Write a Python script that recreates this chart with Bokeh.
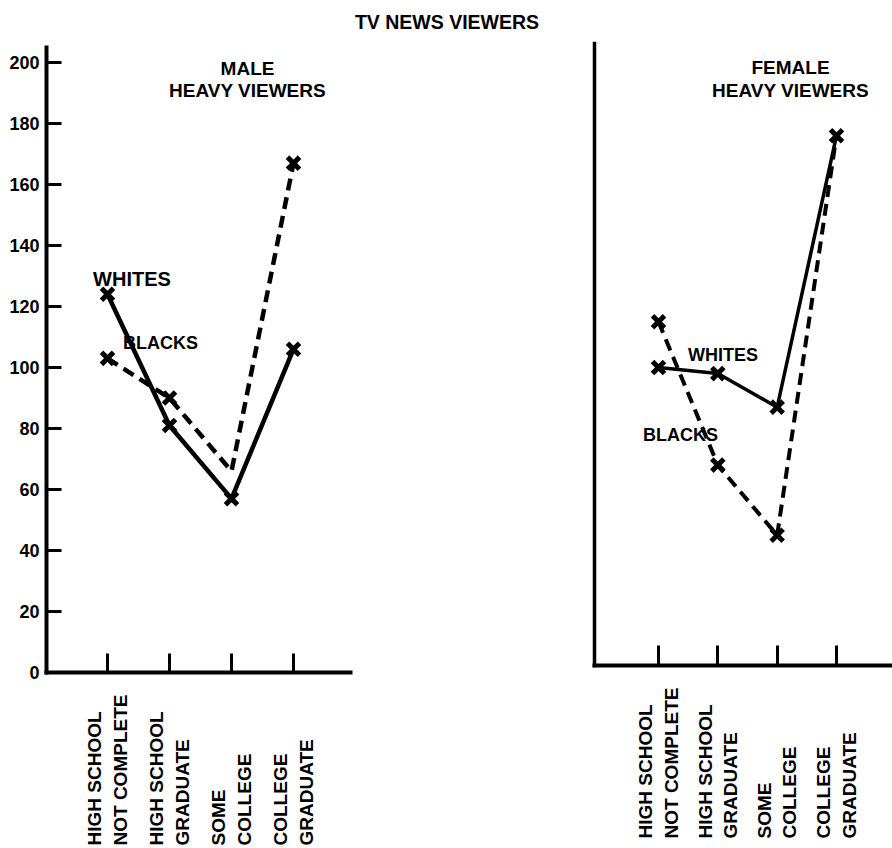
import math
from bokeh.plotting import figure
from bokeh.models import Range1d, FixedTicker, ColumnDataSource
from bokeh.layouts import row
from bokeh.core.properties import value
from bokeh.embed import file_html
from bokeh.resources import INLINE

# ---------------- data ----------------
title_text = "TV NEWS VIEWERS"
panel_titles = ["MALE\nHEAVY VIEWERS", "FEMALE\nHEAVY VIEWERS"]
categories = ["HIGH SCHOOL\nNOT COMPLETE", "HIGH SCHOOL\nGRADUATE", "SOME\nCOLLEGE", "COLLEGE\nGRADUATE"]
series_names = ["WHITES", "BLACKS"]
y_ticks = [0, 20, 40, 60, 80, 100, 120, 140, 160, 180, 200]

male_whites = [124, 81, 57, 106]
male_blacks = [103, 90, 66, 167]
female_whites = [100, 98, 87, 176]
female_blacks = [115, 68, 45, 176]

# ---------------- layout constants (pixels) ----------------
FONT = "Liberation Sans"
W, H = 892, 848
W1 = 560                      # width of left canvas
W2 = W - W1
Y0_PX = 672                   # pixel row of value 0
PX_PER_UNIT = 3.05            # vertical scale (same for both panels)

xs = list(range(1, len(categories) + 1))


def yval(py):
    return (Y0_PX - py) / PX_PER_UNIT


class XMap:
    def __init__(self, left, c1, c4):
        self.left = left
        self.c1 = c1
        self.k = (c4 - c1) / 3.0

    def val(self, px):
        return 1 + (px - self.c1) / self.k


def make_fig(width, xm):
    p = figure(width=width, height=H,
               x_range=Range1d(xm.val(xm.left), xm.val(xm.left + width)),
               y_range=Range1d(yval(H), yval(0)),
               output_backend="svg", toolbar_location=None,
               min_border=0, min_border_left=0, min_border_right=0,
               min_border_top=0, min_border_bottom=0)
    p.xgrid.visible = False
    p.ygrid.visible = False
    p.outline_line_color = None
    p.background_fill_color = "white"
    p.border_fill_color = "white"
    for ax in (p.xaxis[0], p.yaxis[0]):
        ax.axis_line_color = "black"
        ax.major_tick_line_color = "black"
        ax.minor_tick_line_color = None
        ax.major_tick_out = 0
        ax.axis_line_cap = "square"
    return p


def draw_series(p, whites, blacks, black_marker_idx, wlw, blw):
    p.line(xs, blacks, line_color="black", line_width=blw, line_dash="12 7")
    p.line(xs, whites, line_color="black", line_width=wlw)
    p.scatter(xs, whites, marker="x", size=17, line_color="black", line_width=5)
    bx = [xs[i] for i in black_marker_idx]
    by = [blacks[i] for i in black_marker_idx]
    p.scatter(bx, by, marker="x", size=17, line_color="black", line_width=5)


def cat_labels(p, ystart):
    src = ColumnDataSource(dict(x=xs, y=[ystart] * len(xs), t=categories))
    p.text(x="x", y="y", text="t", source=src, angle=math.pi / 2,
           text_align="left", text_baseline="middle",
           text_font=value(FONT), text_font_style="bold",
           text_font_size="19px", text_line_height=1.2, text_color="black")


def text_at(p, x, y, t, size, lh=1.2):
    src = ColumnDataSource(dict(x=[x], y=[y], t=[t]))
    p.text(x="x", y="y", text="t", source=src, text_font=value(FONT),
           text_font_style="bold", text_font_size=size, text_line_height=lh,
           text_align="center", text_baseline="middle", text_color="black")


# ---------------- left panel (male) ----------------
mL = XMap(0, 107, 293)
p1 = make_fig(W1, mL)
yax_x = mL.val(46)
p1.yaxis.fixed_location = yax_x
p1.yaxis.bounds = (0, yval(47))
p1.yaxis.ticker = FixedTicker(ticks=y_ticks)
p1.yaxis.axis_line_width = 4
p1.yaxis.major_tick_in = 15
p1.yaxis.major_tick_line_width = 3
p1.yaxis.major_label_standoff = 7
p1.yaxis.major_label_text_font = FONT
p1.yaxis.major_label_text_font_style = "bold"
p1.yaxis.major_label_text_font_size = "18px"
p1.yaxis.major_label_text_color = "black"

p1.xaxis.fixed_location = 0
p1.xaxis.bounds = (yax_x, mL.val(350))
p1.xaxis.ticker = FixedTicker(ticks=xs)
p1.xaxis.major_label_overrides = {x: "" for x in xs}
p1.xaxis.axis_line_width = 4
p1.xaxis.major_tick_in = 19
p1.xaxis.major_tick_line_width = 3

draw_series(p1, male_whites, male_blacks, [0, 1, 3], 4.5, 4.5)
text_at(p1, mL.val(131.5), yval(278), series_names[0], "20px")
text_at(p1, mL.val(160), yval(342), series_names[1], "18px")
text_at(p1, mL.val(247), yval(79), panel_titles[0], "19px", 1.05)
text_at(p1, mL.val(446.5), yval(21.5), title_text, "19.5px")
cat_labels(p1, yval(845))

# ---------------- right panel (female) ----------------
mR = XMap(W1, 658, 836)
p2 = make_fig(W2, mR)
yax_x2 = mR.val(594)
x_axis_y2 = yval(665)
p2.yaxis.fixed_location = yax_x2
p2.yaxis.bounds = (x_axis_y2, yval(43))
p2.yaxis.ticker = FixedTicker(ticks=[])
p2.yaxis.axis_line_width = 3.5

p2.xaxis.fixed_location = x_axis_y2
p2.xaxis.bounds = (yax_x2, mR.val(W))
p2.xaxis.ticker = FixedTicker(ticks=xs)
p2.xaxis.major_label_overrides = {x: "" for x in xs}
p2.xaxis.axis_line_width = 4
p2.xaxis.major_tick_in = 20
p2.xaxis.major_tick_line_width = 3

draw_series(p2, female_whites, female_blacks, [0, 1, 2], 3.5, 4)
text_at(p2, mR.val(722.5), yval(354), series_names[0], "18px")
text_at(p2, mR.val(680), yval(434), series_names[1], "18px")
text_at(p2, mR.val(790), yval(78.5), panel_titles[1], "19px", 1.05)
cat_labels(p2, yval(838))

layout = row(p1, p2)
open("out.html", "w").write(file_html(layout, INLINE))
